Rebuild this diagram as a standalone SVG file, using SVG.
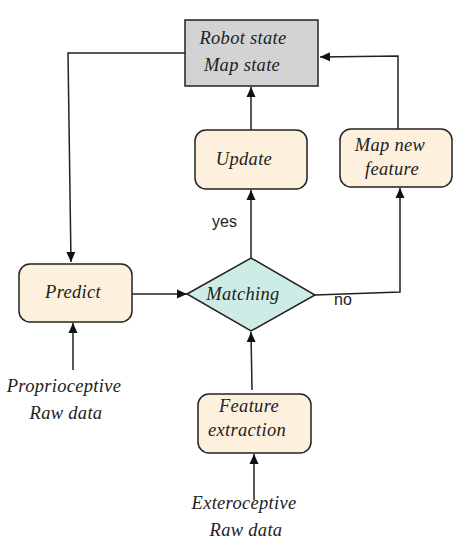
<svg xmlns="http://www.w3.org/2000/svg" width="461" height="550" viewBox="0 0 461 550">
<defs>
<marker id="ah" viewBox="0 0 10 10" refX="10" refY="5" markerWidth="10" markerHeight="10" markerUnits="userSpaceOnUse" orient="auto">
<path d="M0,0.5 L10,5 L0,9.5 z" fill="#111"/>
</marker>
<style>
.box{fill:#fdf1dd;stroke:#222;stroke-width:1.5}
.t{font-family:"Liberation Serif",serif;font-style:italic;font-size:18.5px;letter-spacing:0.3px;fill:#222;text-anchor:middle}
.s{font-family:"Liberation Sans",sans-serif;font-size:16px;fill:#222}
.c{fill:none;stroke:#222;stroke-width:1.5;marker-end:url(#ah)}
</style>
</defs>
<rect width="461" height="550" fill="#fff"/>
<g id="state">
<rect x="185" y="20" width="133" height="66" fill="#d3d3d3" stroke="#222" stroke-width="1.5"/>
<text class="t" x="243" y="44">Robot state</text>
<text class="t" x="242" y="71">Map state</text>
</g>
<g id="update">
<rect class="box" x="195" y="130" width="112" height="59" rx="11"/>
<text class="t" x="244" y="165">Update</text>
</g>
<g id="mapnew">
<rect class="box" x="340" y="129" width="112" height="58" rx="11"/>
<text class="t" x="390" y="151">Map new</text>
<text class="t" x="392" y="175">feature</text>
</g>
<g id="predict">
<rect class="box" x="19" y="264" width="113" height="58" rx="11"/>
<text class="t" x="73" y="298">Predict</text>
</g>
<g id="matching">
<polygon points="187,294 251,258 315,295 251,331" fill="#cdece5" stroke="#222" stroke-width="1.5"/>
<text class="t" x="243" y="300">Matching</text>
</g>
<g id="feature">
<rect class="box" x="198" y="394" width="113" height="59" rx="11"/>
<text class="t" x="249" y="412">Feature</text>
<text class="t" x="247" y="436">extraction</text>
</g>
<g id="proprio">
<text class="t" x="64" y="392">Proprioceptive</text>
<text class="t" x="66" y="419">Raw data</text>
</g>
<g id="extero">
<text class="t" x="244" y="509">Exteroceptive</text>
<text class="t" x="246" y="536">Raw data</text>
</g>
<g id="connectors">
<polyline class="c" points="185,53 68,53 71,262"/>
<line class="c" x1="251" y1="130" x2="251" y2="87"/>
<polyline class="c" points="398,129 398,56 320,57"/>
<line class="c" x1="132" y1="294" x2="187" y2="294"/>
<line class="c" x1="251" y1="258" x2="251" y2="190"/>
<polyline class="c" points="315,295 400,292 400,188"/>
<line class="c" x1="252" y1="390" x2="251" y2="332"/>
<line class="c" x1="73" y1="370" x2="73" y2="323"/>
<line class="c" x1="254" y1="500" x2="254" y2="454"/>
<text class="s" x="212" y="227">yes</text>
<text class="s" x="334" y="305">no</text>
</g>
</svg>
